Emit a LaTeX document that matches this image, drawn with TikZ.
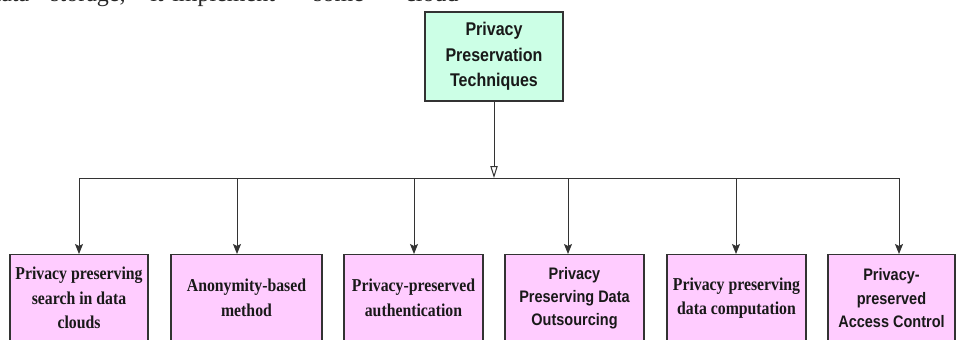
\documentclass[tikz,border=0pt]{standalone}
\usepackage{fontspec}
\setmainfont{Liberation Serif}
\setsansfont{Liberation Sans}
% box lettering is set a little taller than wide
\newfontfamily\boxsans{Liberation Sans}[FakeStretch=0.87]
\newfontfamily\boxserif{Liberation Serif}[FakeStretch=0.87]
\usetikzlibrary{arrows.meta}

\definecolor{rootgreen}{RGB}{204,255,230}
\definecolor{leafpink}{RGB}{255,204,255}
\definecolor{edgegray}{RGB}{51,51,51}

\tikzset{
  rootbox/.style={draw=edgegray, fill=rootgreen, line width=0.9pt, minimum width=103.5pt,
    minimum height=66.75pt, align=center, text=black!90,
    font=\boxsans\bfseries\fontsize{13.8}{19}\selectfont},
  leafbox/.style={draw=edgegray, fill=leafpink, line width=0.9pt, anchor=north,
    minimum height=65.25pt, align=center, inner sep=1pt, text=black!90},
  leafsans/.style={leafbox, font=\boxsans\bfseries\fontsize{12.5}{17.5}\selectfont},
  leafserif/.style={leafbox, font=\boxserif\bfseries\fontsize{13.6}{18.5}\selectfont},
  word/.style={anchor=base west, inner sep=0pt, text=black!85, font=\fontsize{18}{20}\selectfont},
  wire/.style={draw=edgegray, line width=0.75pt},
  tip/.style={-{Stealth[length=7.5pt,width=6pt,inset=1.5pt]}}
}

\begin{document}
\begin{tikzpicture}[x=0.75pt, y=-0.75pt]
  \useasboundingbox (0,0) rectangle (956,339);
  \clip (0,0) rectangle (956,339);

  % tail of the running text above
  \node[word] (w1) at (-11,1.5) {data};
  \node[word] (w2) at (50,1.5) {storage,};
  \node[word] (w3) at (150,1.5) {it};
  \node[word] (w4) at (172,1.5) {implement};
  \node[word] (w5) at (313,1.5) {some};
  \node[word] (w6) at (405,1.5) {cloud};

  % root
  \node[rootbox] (ppt) at (494,56.5) {Privacy\\Preservation\\Techniques};

  % techniques
  \node[leafserif, minimum width=103.5pt] (search) at (79,254) {Privacy preserving\\search in data\\clouds};
  \node[leafserif, minimum width=113.25pt] (anon) at (246.5,254) {Anonymity-based\\method};
  \node[leafserif, minimum width=104.25pt] (auth) at (413.5,254) {Privacy-preserved\\authentication};
  \node[leafsans, minimum width=104.25pt] (outsrc) at (574.5,254) {Privacy\\Preserving Data\\Outsourcing};
  \node[leafserif, minimum width=104.25pt] (comp) at (736.5,254) {Privacy preserving\\data computation};
  \node[leafsans, minimum width=95.25pt] (access) at (891.5,254) {Privacy-\\preserved\\Access Control};

  % bus
  \coordinate (b1) at (79,178);
  \coordinate (b2) at (237,178);
  \coordinate (b3) at (414,178);
  \coordinate (b4) at (568,178);
  \coordinate (b5) at (736,178);
  \coordinate (b6) at (899,178);
  \path[wire] (b1) -- (b6);
  \path[wire, -{Triangle[open,length=9pt,width=5.5pt]}] (ppt) -- (ppt.south |- b1);

  \path[wire, tip] (b1) -- (b1 |- search.north);
  \path[wire, tip] (b2) -- (b2 |- anon.north);
  \path[wire, tip] (b3) -- (b3 |- auth.north);
  \path[wire, tip] (b4) -- (b4 |- outsrc.north);
  \path[wire, tip] (b5) -- (b5 |- comp.north);
  \path[wire, tip] (b6) -- (b6 |- access.north);
\end{tikzpicture}
\end{document}
